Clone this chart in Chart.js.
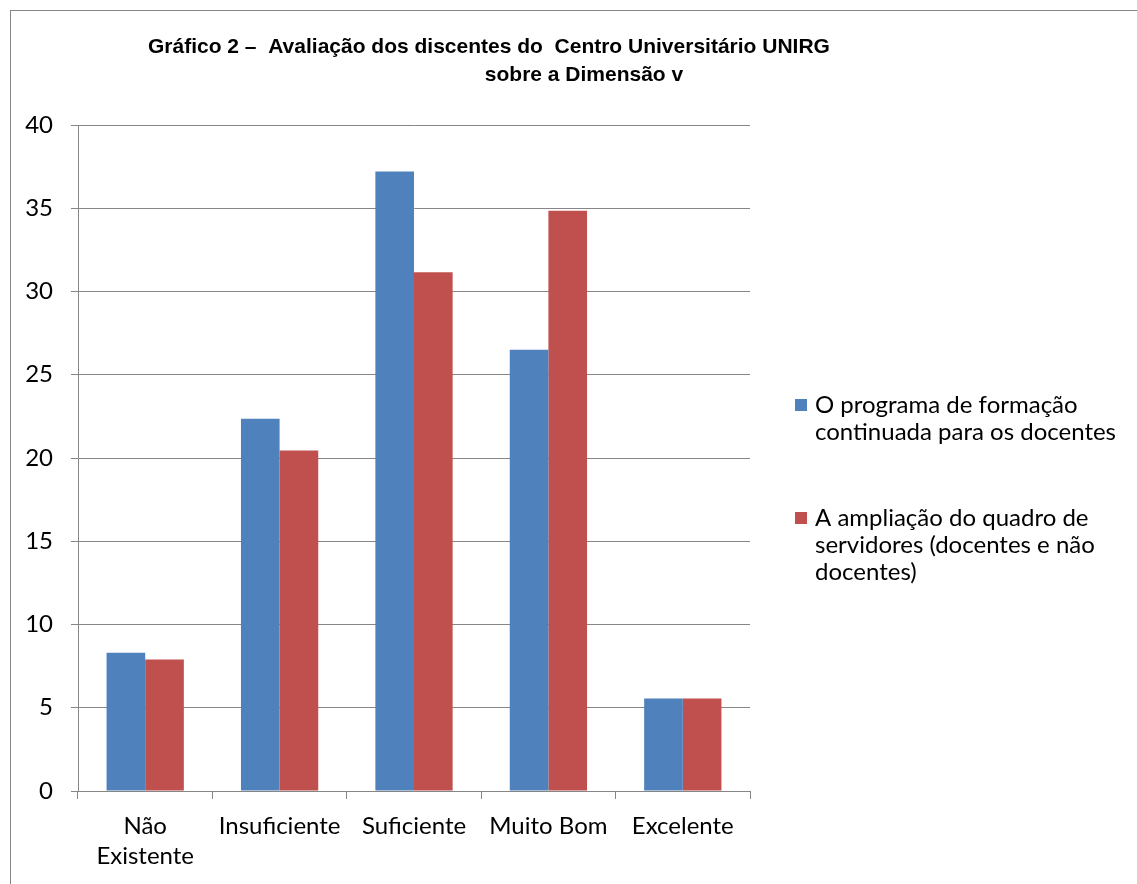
<!DOCTYPE html>
<html>
<head>
<meta charset="utf-8">
<script src="https://cdn.jsdelivr.net/npm/chart.js@4"></script>
<style>
  html, body { margin: 0; padding: 0; background: #fff; }
  #wrap { width: 1137px; height: 884px; position: relative; }
</style>
</head>
<body>
<div id="wrap"><canvas id="chart" width="1137" height="884"></canvas></div>
<script>
const titleLines = ["Gráfico 2 –  Avaliação dos discentes do  Centro Universitário UNIRG", "sobre a Dimensão v"];
const categories = [["Não", "Existente"], "Insuficiente", "Suficiente", "Muito Bom", "Excelente"];
const programaFormacao = [8.3, 22.35, 37.2, 26.5, 5.55];
const ampliacaoQuadro = [7.9, 20.45, 31.15, 34.85, 5.55];
const legendLines = [
  ["O programa de formação", "continuada para os docentes"],
  ["A ampliação do quadro de", "servidores (docentes e não", "docentes)"]
];
const yTicks = [0, 5, 10, 15, 20, 25, 30, 35, 40];

const gridGray = "#868686";
const labelFont = "Lato, 'Open Sans', sans-serif";

// frame, title and wrapped legend like the Excel original
const decor = {
  id: "decor",
  beforeDraw(chart) {
    const c = chart.ctx;
    c.save();
    c.strokeStyle = gridGray;
    c.lineWidth = 1;
    c.strokeRect(10.5, 10.5, 1140, 900);
    c.restore();
  },
  afterDraw(chart) {
    const c = chart.ctx;
    c.save();
    c.fillStyle = "#000";
    c.textBaseline = "middle";
    c.textAlign = "left";
    c.font = "bold 21px 'Liberation Sans', Arial, sans-serif";
    c.fillText(titleLines[0], 148, 47);
    c.textAlign = "center";
    c.fillText(titleLines[1], 584, 75);

    c.textAlign = "left";
    c.font = "24px " + labelFont;
    const tops = [405, 518];
    chart.data.datasets.forEach((ds, i) => {
      c.fillStyle = ds.backgroundColor;
      c.fillRect(795, tops[i] - 6, 12, 12);
      c.fillStyle = "#000";
      legendLines[i].forEach((line, j) => c.fillText(line, 815, tops[i] + j * 27));
    });
    c.restore();
  }
};

new Chart(document.getElementById("chart"), {
  type: "bar",
  data: {
    labels: categories,
    datasets: [
      { label: legendLines[0].join(" "), data: programaFormacao, backgroundColor: "#4F81BD" },
      { label: legendLines[1].join(" "), data: ampliacaoQuadro, backgroundColor: "#C0504D" }
    ]
  },
  options: {
    responsive: false,
    animation: false,
    layout: { padding: { left: 10, right: 387, top: 125, bottom: 0 } },
    datasets: { bar: { categoryPercentage: 0.575, barPercentage: 1 } },
    plugins: {
      legend: { display: false },
      title: { display: false },
      tooltip: { enabled: false }
    },
    scales: {
      x: {
        afterFit: (scale) => { scale.height = 93; },
        grid: {
          offset: true,
          drawOnChartArea: false,
          color: gridGray,
          tickLength: 8
        },
        border: { color: gridGray },
        ticks: {
          color: "#000",
          padding: 12,
          maxRotation: 0,
          autoSkip: false,
          font: { family: labelFont, size: 24, lineHeight: 1.25 }
        }
      },
      y: {
        min: 0,
        max: 40,
        afterFit: (scale) => { scale.width = 68; },
        afterBuildTicks: (scale) => { scale.ticks = yTicks.map(v => ({ value: v })); },
        grid: { color: gridGray, tickLength: 7 },
        border: { color: gridGray },
        ticks: {
          color: "#000",
          padding: 18,
          font: { family: labelFont, size: 24 }
        }
      }
    }
  },
  plugins: [decor]
});
</script>
</body>
</html>
